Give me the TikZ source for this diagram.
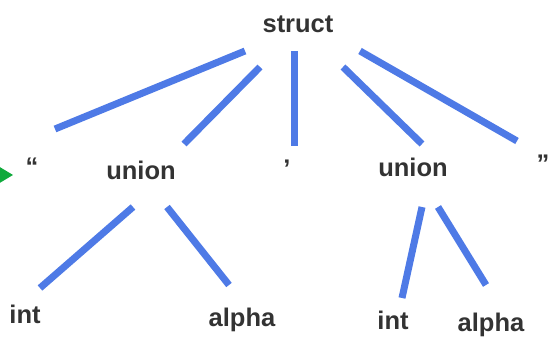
\documentclass[tikz,border=0pt]{standalone}
\usepackage{fontspec}
\setmainfont{Liberation Sans}
\usetikzlibrary{calc}
\definecolor{edgeblue}{RGB}{78,122,230}
\definecolor{txtgray}{RGB}{51,51,51}
\definecolor{arrowgreen}{RGB}{16,170,60}
\begin{document}
\begin{tikzpicture}[x=1pt, y=-1pt,
  lbl/.style={font=\bfseries\fontsize{25.5}{26}\selectfont, text=txtgray, inner sep=0pt, anchor=base},
  edge/.style={draw=edgeblue, line width=7pt}]
\useasboundingbox (0,0) rectangle (560,344);
\fill[arrowgreen] (-2,166) -- (13,175) -- (-2,184) -- cycle;
\node[lbl] (struct) at (298,33){struct};
\node[lbl] (lq) at (32,176){“};
\node[lbl] (lunion) at (141,180){union};
\node[lbl] (comma) at (287,178){’};
\node[lbl] (runion) at (413,177){union};
\node[lbl] (rq) at (543,173){”};
\node[lbl] (lint) at (25,324){int};
\node[lbl] (lalpha) at (242,327){alpha};
\node[lbl] (rint) at (393,330){int};
\node[lbl] (ralpha) at (491,332){alpha};
\draw[edge] ($(struct.base)+(-53,18)$) -- ($(lq.base)+(23,-47)$);
\draw[edge] ($(struct.base)+(-38,34)$) -- ($(lunion.base)+(43,-36)$);
\draw[edge] ($(struct.base)+(-4,18)$) -- ($(comma.base)+(7,-32)$);
\draw[edge] ($(struct.base)+(45,34)$) -- ($(runion.base)+(9,-33)$);
\draw[edge] ($(struct.base)+(62,18)$) -- ($(rq.base)+(-26,-32)$);
\draw[edge] ($(lunion.base)+(-8,27)$) -- ($(lint.base)+(15,-36)$);
\draw[edge] ($(lunion.base)+(26,27)$) -- ($(lalpha.base)+(-13,-42)$);
\draw[edge] ($(runion.base)+(9,30)$) -- ($(rint.base)+(9,-32)$);
\draw[edge] ($(runion.base)+(25,30)$) -- ($(ralpha.base)+(-5,-47)$);
\end{tikzpicture}
\end{document}
